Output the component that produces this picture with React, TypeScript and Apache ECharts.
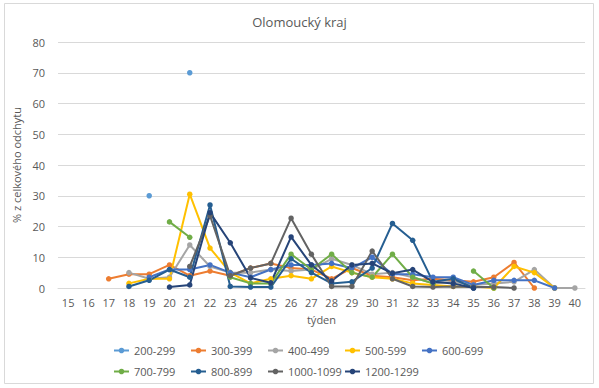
import React, { useEffect, useRef } from "react";
import * as echarts from "echarts";

const weeks = ["15","16","17","18","19","20","21","22","23","24","25","26","27","28","29","30","31","32","33","34","35","36","37","38","39","40"];
const yTicks = { min: 0, max: 80, interval: 10 };

const seriesNames = ["200-299","300-399","400-499","500-599","600-699","700-799","800-899","1000-1099","1200-1299"];
const seriesColors = ["#5B9BD5","#ED7D31","#A5A5A5","#FFC000","#4472C4","#70AD47","#255E91","#636363","#264478"];

const s200 = [null,null,null,null,30,null,70,null,null,null,null,null,null,null,null,null,null,null,null,null,null,null,null,null,null,null];
const s300 = [null,null,3,4.5,4.5,7.5,4,5.5,4,6.5,8,6.5,6,3,6.5,4,3.5,2.5,3,2.5,2,3.5,8.3,0,null,null];
const s400 = [null,null,null,5,3,3.5,14,7,5,5,6,5.5,6,9.5,7.5,4.5,5,3.5,1.5,2,1,1.5,2,6,0,0];
const s500 = [null,null,null,1.5,3,3,30.5,13,5,1.5,3,4,3,7,5,3.5,3,1.5,1,0.5,0.5,0,7,5,0,null];
const s600 = [null,null,null,null,3.5,6,6,7.5,5,3.5,6,7.5,7.5,8,6.5,10,4.5,4.5,3.5,3.5,1,2.5,2.5,2.5,0,null];
const s700 = [null,null,null,null,null,21.5,16.5,null,3.5,1.5,1.5,11,6,11,5,3.5,11,3.5,1.5,null,5.5,0,null,null,null,null];
const s800 = [null,null,null,0.5,2.5,6,3.5,27,0.5,0.3,0.3,9.5,5,1.5,2,6.5,21,15.5,2,3,0,null,null,null,null,null];
const s1000 = [null,null,null,null,null,null,7,23.5,4,6.5,8,22.7,11,0.5,0.5,12,3,0.5,0.3,0.5,0.3,0.3,0,null,null,null];
const s1200 = [null,null,null,null,null,0.3,1,24.5,14.7,3.3,1.7,16.6,7.5,2.3,7.5,8,4.8,6,2,1.5,0,null,null,null,null,null];

const seriesData = [s200, s300, s400, s500, s600, s700, s800, s1000, s1200];

const FONT = "'Open Sans', sans-serif";
const TEXT = "#595959";

export default function App() {
  const ref = useRef<HTMLDivElement>(null);
  useEffect(() => {
    document.body.style.margin = "0";
    if (!ref.current) return;
    const chart = echarts.init(ref.current, null, { renderer: "svg" });
    chart.setOption({
      animation: false,
      backgroundColor: "#ffffff",
      textStyle: { fontFamily: FONT },
      title: {
        text: "Olomoucký kraj",
        left: "center",
        top: 10,
        textStyle: { fontFamily: FONT, fontSize: 13, fontWeight: "normal", color: TEXT },
      },
      graphic: [
        {
          type: "rect",
          shape: { x: 4.5, y: 3.5, width: 589, height: 380 },
          style: { fill: "none", stroke: "#d9d9d9", lineWidth: 1 },
          silent: true,
          z: -1,
        },
      ],
      grid: { left: 58, right: 14, top: 42, bottom: 100, containLabel: false },
      legend: {
        data: seriesNames,
        left: 113,
        top: 340,
        width: 390,
        padding: 0,
        itemGap: 0,
        itemWidth: 15,
        itemHeight: 7,
        textStyle: { fontFamily: FONT, fontSize: 11, color: TEXT, width: 56, lineHeight: 21 },
      },
      xAxis: {
        type: "category",
        data: weeks,
        boundaryGap: true,
        name: "týden",
        nameLocation: "middle",
        nameGap: 26,
        nameTextStyle: { fontFamily: FONT, fontSize: 11, color: TEXT },
        axisLine: { show: true, lineStyle: { color: "#d9d9d9", width: 1 } },
        axisTick: { show: false },
        axisLabel: { fontFamily: FONT, fontSize: 11, color: TEXT, margin: 9, interval: 0 },
      },
      yAxis: {
        type: "value",
        min: yTicks.min,
        max: yTicks.max,
        interval: yTicks.interval,
        name: "% z celkového odchytu",
        nameLocation: "middle",
        nameGap: 29,
        nameTextStyle: { fontFamily: FONT, fontSize: 11, color: TEXT },
        axisLine: { show: false },
        axisTick: { show: false },
        axisLabel: { fontFamily: FONT, fontSize: 11, color: TEXT, margin: 13 },
        splitLine: { lineStyle: { color: "#d9d9d9", width: 1 } },
      },
      series: seriesNames.map((name, i) => ({
        name,
        type: "line",
        data: seriesData[i],
        connectNulls: false,
        symbol: "circle",
        symbolSize: 5.5,
        showSymbol: true,
        showAllSymbol: true,
        color: seriesColors[i],
        itemStyle: { color: seriesColors[i] },
        lineStyle: { color: seriesColors[i], width: 2 },
        emphasis: { disabled: true },
      })),
    });
    return () => chart.dispose();
  }, []);
  return <div ref={ref} style={{ width: 599, height: 388 }} />;
}
